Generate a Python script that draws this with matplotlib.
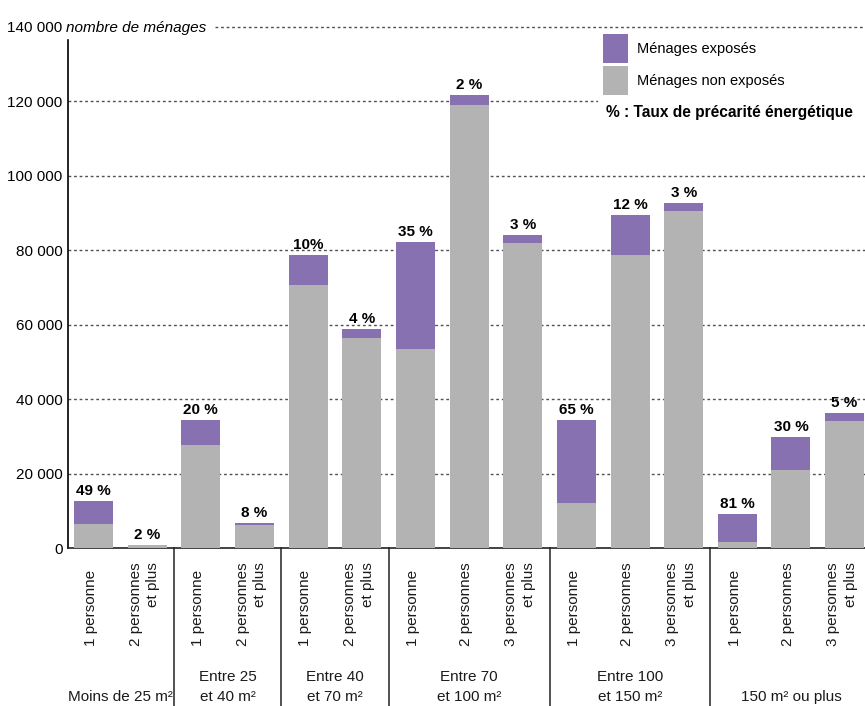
import matplotlib
matplotlib.use("Agg")
import matplotlib.pyplot as plt
from matplotlib import font_manager
from matplotlib.patches import Rectangle
from matplotlib.transforms import blended_transform_factory

# data
categories = ["1 personne", "2 personnes\net plus",
              "1 personne", "2 personnes\net plus",
              "1 personne", "2 personnes\net plus",
              "1 personne", "2 personnes", "3 personnes\net plus",
              "1 personne", "2 personnes", "3 personnes\net plus",
              "1 personne", "2 personnes", "3 personnes\net plus"]
groups = ["Moins de 25 m²", "Entre 25\net 40 m²", "Entre 40\net 70 m²",
          "Entre 70\net 100 m²", "Entre 100\net 150 m²", "150 m² ou plus"]
group_sizes = [2, 2, 2, 3, 3, 3]
non_exposed = [6500, 880, 27700, 6200, 70700, 56500, 53600, 119000, 82000,
               12200, 78700, 90500, 1700, 21000, 34200]
exposed = [6200, 20, 6800, 550, 8000, 2400, 28600, 2600, 2100,
           22200, 10800, 2200, 7500, 8900, 2100]
rates = ["49 %", "2 %", "20 %", "8 %", "10%", "4 %", "35 %", "2 %", "3 %",
         "65 %", "12 %", "3 %", "81 %", "30 %", "5 %"]
yticks = [0, 20000, 40000, 60000, 80000, 100000, 120000, 140000]
ytick_labels = ["0", "20 000", "40 000", "60 000", "80 000", "100 000",
                "120 000", "140 000"]

PURPLE = "#8771b0"
GREY = "#b3b3b3"

names = {f.name for f in font_manager.fontManager.ttflist}
if "Liberation Sans Narrow" in names:
    narrow, narrow_size = "Liberation Sans Narrow", 13
else:
    narrow, narrow_size = "Liberation Sans", 11
plt.rcParams["font.family"] = ["Liberation Sans", "DejaVu Sans"]

W, H = 865, 706
fig = plt.figure(figsize=(W / 100, H / 100), dpi=100)
base_px, top_px, left_px = 548.3, 20, 68
ax = fig.add_axes([left_px / W, (H - base_px) / H, (W - left_px) / W,
                   (base_px - top_px) / H])


def ay(py):
    # pixel row -> axes fraction
    return (base_px - py) / (base_px - top_px)


x = list(range(len(categories)))
b1 = ax.bar(x, exposed, 0.727, bottom=non_exposed, color=PURPLE,
            linewidth=0, zorder=3, label="Ménages exposés")
b2 = ax.bar(x, non_exposed, 0.727, color=GREY, linewidth=0, zorder=3,
            label="Ménages non exposés")

for xi, g, e, r in zip(x, non_exposed, exposed, rates):
    ax.annotate(r, (xi, g + e), xytext=(0, 4.5), textcoords="offset points",
                ha="center", va="baseline", fontsize=narrow_size,
                fontweight="bold", family=narrow, zorder=5)

ax.set_xlim(-0.4753, 14.38)
ax.set_ylim(0, 141800)

# dotted grid
for yv in yticks[1:-1]:
    ax.axhline(yv, color="#505050", lw=1, ls=(0, (2, 2)), zorder=1)
ax.axhline(140000, xmin=(215 - left_px) / (W - left_px), color="#505050",
           lw=1, ls=(0, (2, 2)), zorder=1, clip_on=False)

ax.set_yticks(yticks, ytick_labels, fontsize=11)
ax.tick_params(axis="y", length=0, pad=4)
ax.set_xticks([])
for s in ["top", "right"]:
    ax.spines[s].set_visible(False)
ax.spines["left"].set_bounds(0, 136500)
ax.spines["left"].set_linewidth(1.2)
ax.spines["bottom"].set_linewidth(1.2)
ax.spines["bottom"].set_color("#222222")

ax.text(-2 / (W - left_px), 140000, "nombre de ménages", style="italic",
        fontsize=11, va="center_baseline", ha="left",
        transform=blended_transform_factory(ax.transAxes, ax.transData))

trans = blended_transform_factory(ax.transData, ax.transAxes)
for xi, lab in zip(x, categories):
    ax.text(xi - 0.05, ay(646), lab, rotation=90, ha="center", va="bottom",
            multialignment="right", fontsize=11, linespacing=1.3,
            color="#1a1a1a", transform=trans, clip_on=False)

start = 0
for gi, (gname, n) in enumerate(zip(groups, group_sizes)):
    centre = start + (n - 1) / 2
    ax.text(centre, ay(704), gname, ha="center", va="bottom",
            fontsize=narrow_size, family=narrow, linespacing=1.55,
            color="#1a1a1a", transform=trans, clip_on=False)
    if gi > 0:
        ax.plot([start - 0.5, start - 0.5], [0, ay(706)], color="#222222",
                lw=1.1, transform=trans, clip_on=False)
    start += n

# legend block (white panel masks the grid)
ax.add_patch(Rectangle(((598 - left_px) / (W - left_px), ay(125)), 1, ay(30) - ay(125),
                       transform=ax.transAxes, facecolor="white",
                       edgecolor="none", zorder=2, clip_on=False))
fs = 10.5
ax.legend(handles=[b1, b2], loc="upper left", frameon=False, fontsize=fs,
          bbox_to_anchor=(603 / W, 1 - 34 / H), bbox_transform=fig.transFigure,
          borderpad=0, borderaxespad=0, handlelength=25 / (fs * 100 / 72),
          handleheight=2.68, handletextpad=0.6,
          labelspacing=0.2)
fig.text(606 / W, 1 - 112 / H, "% : Taux de précarité énergétique",
         fontsize=11.2, fontweight="bold", va="center", ha="left")

fig.savefig("out.png", dpi=100)
